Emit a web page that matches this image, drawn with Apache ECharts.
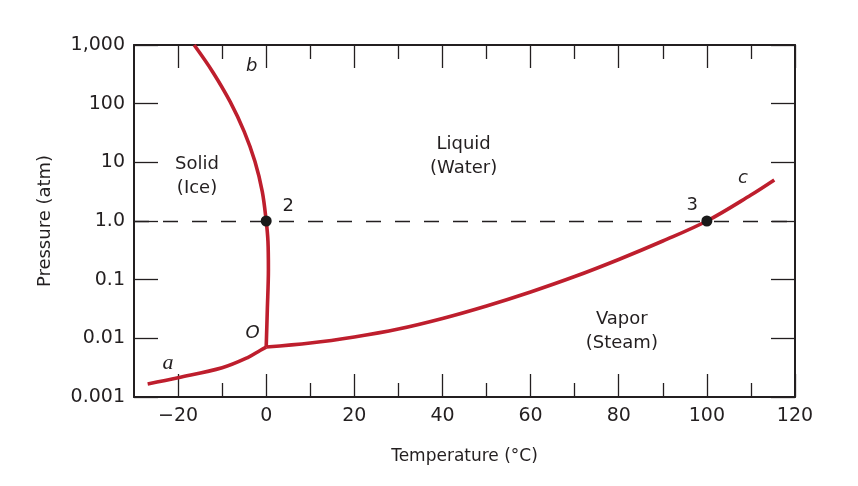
<!DOCTYPE html>
<html>
<head>
<meta charset="utf-8">
<script src="https://cdn.jsdelivr.net/npm/echarts@6/dist/echarts.min.js"></script>
<style>html,body{margin:0;padding:0;background:#fff}#c{width:858px;height:486px}</style>
</head>
<body>
<div id="c"></div>
<script>
// ---- data ----
const xMajorTicks = [-20, 0, 20, 40, 60, 80, 100, 120];
const xTickLabels = ['\u221220', '0', '20', '40', '60', '80', '100', '120'];
const xMinorTicks = [-10, 10, 30, 50, 70, 90, 110];
const yTicks = [0.001, 0.01, 0.1, 1, 10, 100, 1000];
const yTickLabels = ['0.001', '0.01', '0.1', '1.0', '10', '100', '1,000'];

// sublimation curve (a -> O)
const sublimation = [[-26.9, 0.00167], [-20, 0.00213], [-10, 0.00315], [-4.3, 0.00466], [-1.3, 0.00627], [0, 0.0071]];
// fusion curve (O -> 2 -> b)
const fusion = [[0, 0.0071], [0.25, 0.03], [0.5, 0.15], [0.4, 0.45], [0, 1], [-0.89, 3.16], [-2.55, 10.3], [-4.99, 33.3], [-8.19, 108], [-12.17, 351], [-16.34, 1000]];
// vaporization curve (O -> 3 -> c)
const vaporization = [[0, 0.0071], [10, 0.0083], [20, 0.01055], [30, 0.0144], [40, 0.0218], [50, 0.0356], [60, 0.0617], [70, 0.113], [80, 0.221], [90, 0.456], [100, 1.0], [110, 2.77], [115.3, 5.0]];
// marked points 2 and 3
const points = [[0, 1], [100, 1]];
// annotation texts and their data positions
const annText = ['Solid\n(Ice)', 'Liquid\n(Water)', 'Vapor\n(Steam)', '2', '3', 'c', 'b', 'a', 'O'];
const annT = [-15.7, 44.8, 80.7, 5.0, 96.7, 108.2, -3.3, -22.3, -3.1];
const annP = [5.85, 12.8, 0.0131, 1.8, 1.88, 5.4, 438, 0.0038, 0.0123];
const annStyle = ['n', 'n', 'n', 'n', 'n', 'i', 'i', 's', 'i'];

// ---- chart ----
const FONT = 'DejaVu Sans';
const INK = '#231f20';
const RED = '#be1e2d';

const chart = echarts.init(document.getElementById('c'), null, {renderer: 'canvas'});

function xAxisDef(pos, ticks, len, showLine, showLabels) {
  return {
    type: 'value', position: pos, min: -30, max: 120,
    axisLine: {show: showLine, onZero: false, lineStyle: {color: INK, width: 2}},
    axisTick: {show: true, inside: true, length: len, customValues: ticks, lineStyle: {color: INK, width: 1.3}},
    axisLabel: showLabels ? {
      show: true, customValues: xMajorTicks, margin: 10, color: INK, fontFamily: FONT, fontSize: 19,
      formatter: v => { const i = xMajorTicks.indexOf(v); return i >= 0 ? xTickLabels[i] : ''; }
    } : {show: false},
    splitLine: {show: false},
    name: showLabels ? 'Temperature (\u00b0C)' : '',
    nameLocation: 'middle', nameGap: 51,
    nameTextStyle: {color: INK, fontFamily: FONT, fontSize: 17}
  };
}
function yAxisDef(pos, showLabels) {
  return {
    type: 'log', logBase: 10, position: pos, min: 0.001, max: 1000,
    axisLine: {show: true, onZero: false, lineStyle: {color: INK, width: 2}},
    axisTick: {show: true, inside: true, length: 24, customValues: yTicks, lineStyle: {color: INK, width: 1.3}},
    axisLabel: showLabels ? {
      show: true, customValues: yTicks, margin: 9, color: INK, fontFamily: FONT, fontSize: 19,
      formatter: v => { const i = Math.round(Math.log10(v)) + 3; return yTickLabels[i] || ''; }
    } : {show: false},
    splitLine: {show: false}, minorTick: {show: false},
    name: showLabels ? 'Pressure (atm)' : '',
    nameLocation: 'middle', nameGap: 80,
    nameTextStyle: {color: INK, fontFamily: FONT, fontSize: 18}
  };
}

const curveStyle = {color: RED, width: 3.6};
function curve(data) {
  return {type: 'line', data: data, smooth: 0.35, symbol: 'none', lineStyle: curveStyle, z: 3, silent: true, clip: false};
}

const annData = annText.map((t, i) => {
  const st = annStyle[i];
  return {
    value: [annT[i], annP[i]],
    label: {
      formatter: t,
      fontStyle: st === 'n' ? 'normal' : 'italic',
      fontFamily: st === 's' ? 'Liberation Serif' : FONT,
      fontSize: st === 's' ? 22 : 18
    }
  };
});

chart.setOption({
  animation: false,
  backgroundColor: '#fff',
  grid: {left: 134, right: 63, top: 45, bottom: 89, containLabel: false},
  xAxis: [
    xAxisDef('bottom', xMajorTicks, 23, true, true),
    xAxisDef('bottom', xMinorTicks, 14, false, false),
    xAxisDef('top', xMajorTicks, 23, true, false),
    xAxisDef('top', xMinorTicks, 14, false, false)
  ],
  yAxis: [yAxisDef('left', true), yAxisDef('right', false)],
  series: [
    {
      type: 'line', data: [], silent: true,
      markLine: {
        silent: true, symbol: ['none', 'none'], label: {show: false},
        lineStyle: {color: INK, width: 1.3, type: [15, 14], opacity: 1},
        data: [{yAxis: 1}]
      },
      z: 2
    },
    curve(sublimation),
    curve(fusion),
    curve(vaporization),
    {
      type: 'scatter', data: points, symbolSize: 11, itemStyle: {color: '#1a1a1a', opacity: 1}, z: 5, silent: true
    },
    {
      type: 'scatter', data: annData, symbolSize: 1, itemStyle: {color: 'rgba(0,0,0,0)', opacity: 1}, silent: true, z: 6,
      label: {show: true, position: 'inside', color: INK, opacity: 1, fontFamily: FONT, fontSize: 18, lineHeight: 24, align: 'center', verticalAlign: 'middle'}
    }
  ]
});
</script>
</body>
</html>
